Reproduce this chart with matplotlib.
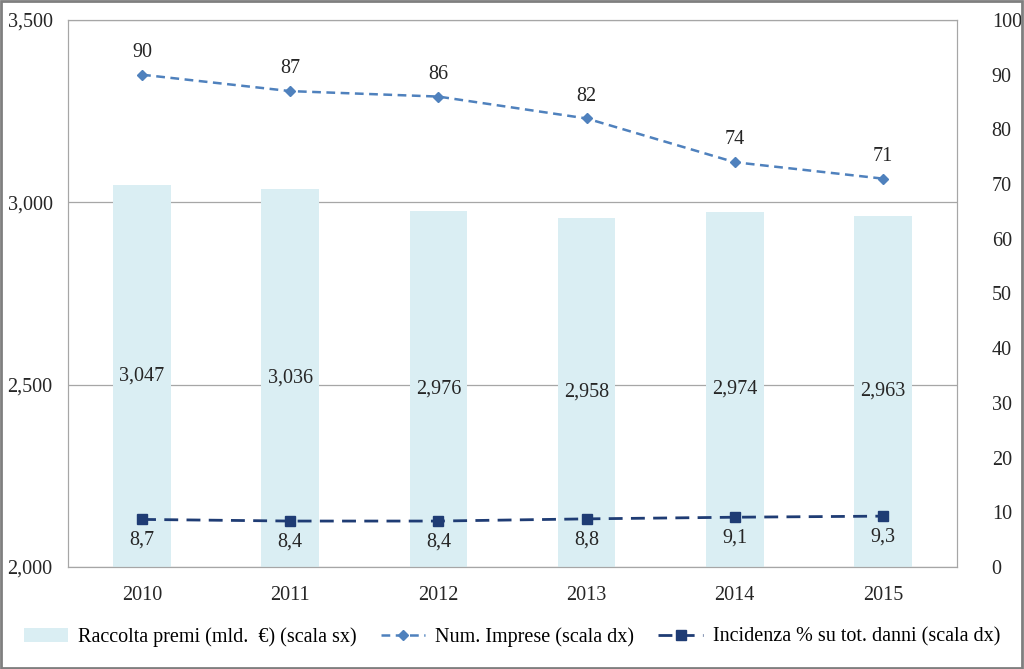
import matplotlib
matplotlib.use('Agg')
import matplotlib.pyplot as plt
from matplotlib.patches import Rectangle

years = ['2010', '2011', '2012', '2013', '2014', '2015']
premi = [3047, 3036, 2976, 2958, 2974, 2963]
imprese = [90, 87, 86, 82, 74, 71]
incidenza = [8.7, 8.4, 8.4, 8.8, 9.1, 9.3]

plt.rcParams['font.family'] = ['Liberation Serif', 'DejaVu Serif']
plt.rcParams['font.size'] = 14.5

fig = plt.figure(figsize=(10.24, 6.69), dpi=100)
ax = fig.add_axes([68 / 1024, 1 - 567 / 669, (957 - 68) / 1024, (567 - 20) / 669])
ax2 = ax.twinx()

x = list(range(len(years)))
bars = ax.bar(x, premi, width=0.39, color='#DAEEF3', zorder=2,
              label='Raccolta premi (mld.  €) (scala sx)')
ax.set_ylim(2000, 3500)
ax.set_xlim(-0.5, len(years) - 0.5)
ax.set_yticks([2000, 2500, 3000, 3500])
ax.set_yticklabels([f'{v:,}' for v in [2000, 2500, 3000, 3500]])
ax.yaxis.grid(True, color='#A6A6A6', lw=0.9, zorder=0)
ax.set_axisbelow(True)
ax.set_xticks(x)
ax.set_xticklabels(years)
ax.tick_params(length=0, pad=14)
ax.tick_params(axis='y', pad=11)
for i, v in enumerate(premi):
    ax.text(i, (2000 + v) / 2, f'{v:,}', ha='center', va='center', color='#262626', zorder=5)

ax2.set_ylim(0, 100)
ax2.set_yticks(range(0, 101, 10))
ax2.tick_params(length=0, pad=25)
l1, = ax2.plot(x, imprese, color='#4F81BD', ls=(0, (3.5, 2.2)), lw=1.8, marker='D',
               markersize=5.5, label='Num. Imprese (scala dx)')
l2, = ax2.plot(x, incidenza, color='#1F3C74', ls=(0, (5, 3)), lw=2, marker='s',
               markersize=7, label='Incidenza % su tot. danni (scala dx)')
for i, v in enumerate(imprese):
    ax2.annotate(str(v), (i, v), xytext=(0, 16), textcoords='offset points',
                 ha='center', va='center', color='#262626')
for i, v in enumerate(incidenza):
    ax2.annotate(f'{v:.1f}'.replace('.', ','), (i, v), xytext=(0, -15), textcoords='offset points',
                 ha='center', va='center', color='#262626')

for a in (ax, ax2):
    for s in a.spines.values():
        s.set_color('#A6A6A6')
    a.tick_params(colors='#262626')

fig.legend([bars, l1, l2], [bars.get_label(), l1.get_label(), l2.get_label()],
           loc='center', bbox_to_anchor=(0.5, 1 - 637 / 669), ncol=3, frameon=False,
           handlelength=2.2, columnspacing=1.2, handletextpad=0.5)

fig.patches.append(Rectangle((0.001, 0.001), 0.997, 0.997, transform=fig.transFigure,
                             fill=False, edgecolor='#7F7F7F', lw=2))
fig.savefig('out.png', dpi=100)
